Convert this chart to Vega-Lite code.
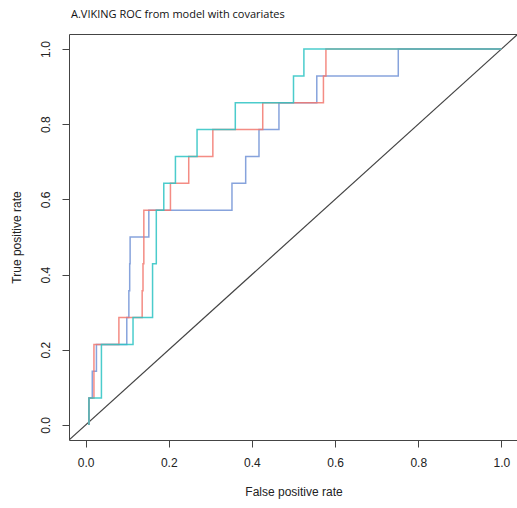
{
  "$schema": "https://vega.github.io/schema/vega-lite/v6.json",
  "width": 449,
  "height": 406,
  "autosize": {"type": "none"},
  "padding": {"left": 69, "top": 34, "right": 0, "bottom": 68},
  "config": {
    "view": {"stroke": "#444", "strokeWidth": 1},
    "axis": {
      "grid": false,
      "domain": false,
      "tickSize": 7,
      "tickColor": "#444",
      "labelFont": "Liberation Sans",
      "labelFontSize": 12,
      "labelColor": "#222",
      "titleFont": "Liberation Sans",
      "titleFontSize": 12,
      "titleFontWeight": "normal",
      "titleColor": "#222"
    }
  },
  "title": {
    "text": "A.VIKING ROC from model with covariates",
    "anchor": "start",
    "frame": "group",
    "font": "Open Sans",
    "fontSize": 11,
    "fontWeight": "normal",
    "color": "#111",
    "baseline": "alphabetic",
    "offset": 5,
    "dx": 2
  },
  "encoding": {
    "x": {
      "field": "fpr", "type": "quantitative",
      "scale": {"domain": [-0.04, 1.04], "nice": false, "zero": false},
      "axis": {"values": [0, 0.2, 0.4, 0.6, 0.8, 1], "format": ".1f", "labelPadding": 10, "title": "False positive rate", "titlePadding": 18}
    },
    "y": {
      "field": "tpr", "type": "quantitative",
      "scale": {"domain": [-0.04, 1.04], "nice": false, "zero": false},
      "axis": {"values": [0, 0.2, 0.4, 0.6, 0.8, 1], "format": ".1f", "labelAngle": -90, "labelAlign": "center", "labelBaseline": "bottom", "labelPadding": 10, "title": "True positive rate", "titlePadding": 16}
    }
  },
  "layer": [
    {
      "data": {"values": [{"fpr": -0.04, "tpr": -0.04}, {"fpr": 1.04, "tpr": 1.04}]},
      "mark": {"type": "line", "color": "#444", "strokeWidth": 1.2, "clip": true}
    },
    {
      "data": {"values": [
        {"s": "blue", "i": 0, "fpr": 0.008, "tpr": 0},
        {"s": "blue", "i": 1, "fpr": 0.008, "tpr": 0.0714},
        {"s": "blue", "i": 2, "fpr": 0.016, "tpr": 0.0714},
        {"s": "blue", "i": 3, "fpr": 0.016, "tpr": 0.1429},
        {"s": "blue", "i": 4, "fpr": 0.026, "tpr": 0.1429},
        {"s": "blue", "i": 5, "fpr": 0.026, "tpr": 0.2143},
        {"s": "blue", "i": 6, "fpr": 0.099, "tpr": 0.2143},
        {"s": "blue", "i": 7, "fpr": 0.099, "tpr": 0.2857},
        {"s": "blue", "i": 8, "fpr": 0.104, "tpr": 0.2857},
        {"s": "blue", "i": 9, "fpr": 0.104, "tpr": 0.3571},
        {"s": "blue", "i": 10, "fpr": 0.106, "tpr": 0.3571},
        {"s": "blue", "i": 11, "fpr": 0.106, "tpr": 0.4286},
        {"s": "blue", "i": 12, "fpr": 0.107, "tpr": 0.4286},
        {"s": "blue", "i": 13, "fpr": 0.107, "tpr": 0.5},
        {"s": "blue", "i": 14, "fpr": 0.152, "tpr": 0.5},
        {"s": "blue", "i": 15, "fpr": 0.152, "tpr": 0.5714},
        {"s": "blue", "i": 16, "fpr": 0.352, "tpr": 0.5714},
        {"s": "blue", "i": 17, "fpr": 0.352, "tpr": 0.6429},
        {"s": "blue", "i": 18, "fpr": 0.385, "tpr": 0.6429},
        {"s": "blue", "i": 19, "fpr": 0.385, "tpr": 0.7143},
        {"s": "blue", "i": 20, "fpr": 0.417, "tpr": 0.7143},
        {"s": "blue", "i": 21, "fpr": 0.417, "tpr": 0.7857},
        {"s": "blue", "i": 22, "fpr": 0.465, "tpr": 0.7857},
        {"s": "blue", "i": 23, "fpr": 0.465, "tpr": 0.8571},
        {"s": "blue", "i": 24, "fpr": 0.556, "tpr": 0.8571},
        {"s": "blue", "i": 25, "fpr": 0.556, "tpr": 0.9286},
        {"s": "blue", "i": 26, "fpr": 0.752, "tpr": 0.9286},
        {"s": "blue", "i": 27, "fpr": 0.752, "tpr": 1},
        {"s": "blue", "i": 28, "fpr": 1, "tpr": 1},
        {"s": "red", "i": 0, "fpr": 0.008, "tpr": 0},
        {"s": "red", "i": 1, "fpr": 0.008, "tpr": 0.0714},
        {"s": "red", "i": 2, "fpr": 0.02, "tpr": 0.0714},
        {"s": "red", "i": 3, "fpr": 0.02, "tpr": 0.2143},
        {"s": "red", "i": 4, "fpr": 0.08, "tpr": 0.2143},
        {"s": "red", "i": 5, "fpr": 0.08, "tpr": 0.2857},
        {"s": "red", "i": 6, "fpr": 0.136, "tpr": 0.2857},
        {"s": "red", "i": 7, "fpr": 0.136, "tpr": 0.3571},
        {"s": "red", "i": 8, "fpr": 0.138, "tpr": 0.3571},
        {"s": "red", "i": 9, "fpr": 0.138, "tpr": 0.4286},
        {"s": "red", "i": 10, "fpr": 0.14, "tpr": 0.4286},
        {"s": "red", "i": 11, "fpr": 0.14, "tpr": 0.5714},
        {"s": "red", "i": 12, "fpr": 0.204, "tpr": 0.5714},
        {"s": "red", "i": 13, "fpr": 0.204, "tpr": 0.6429},
        {"s": "red", "i": 14, "fpr": 0.248, "tpr": 0.6429},
        {"s": "red", "i": 15, "fpr": 0.248, "tpr": 0.7143},
        {"s": "red", "i": 16, "fpr": 0.306, "tpr": 0.7143},
        {"s": "red", "i": 17, "fpr": 0.306, "tpr": 0.7857},
        {"s": "red", "i": 18, "fpr": 0.426, "tpr": 0.7857},
        {"s": "red", "i": 19, "fpr": 0.426, "tpr": 0.8571},
        {"s": "red", "i": 20, "fpr": 0.572, "tpr": 0.8571},
        {"s": "red", "i": 21, "fpr": 0.572, "tpr": 0.9286},
        {"s": "red", "i": 22, "fpr": 0.578, "tpr": 0.9286},
        {"s": "red", "i": 23, "fpr": 0.578, "tpr": 1},
        {"s": "red", "i": 24, "fpr": 1, "tpr": 1},
        {"s": "teal", "i": 0, "fpr": 0.008, "tpr": 0},
        {"s": "teal", "i": 1, "fpr": 0.008, "tpr": 0.0714},
        {"s": "teal", "i": 2, "fpr": 0.038, "tpr": 0.0714},
        {"s": "teal", "i": 3, "fpr": 0.038, "tpr": 0.2143},
        {"s": "teal", "i": 4, "fpr": 0.114, "tpr": 0.2143},
        {"s": "teal", "i": 5, "fpr": 0.114, "tpr": 0.2857},
        {"s": "teal", "i": 6, "fpr": 0.161, "tpr": 0.2857},
        {"s": "teal", "i": 7, "fpr": 0.161, "tpr": 0.4286},
        {"s": "teal", "i": 8, "fpr": 0.17, "tpr": 0.4286},
        {"s": "teal", "i": 9, "fpr": 0.17, "tpr": 0.5714},
        {"s": "teal", "i": 10, "fpr": 0.188, "tpr": 0.5714},
        {"s": "teal", "i": 11, "fpr": 0.188, "tpr": 0.6429},
        {"s": "teal", "i": 12, "fpr": 0.216, "tpr": 0.6429},
        {"s": "teal", "i": 13, "fpr": 0.216, "tpr": 0.7143},
        {"s": "teal", "i": 14, "fpr": 0.268, "tpr": 0.7143},
        {"s": "teal", "i": 15, "fpr": 0.268, "tpr": 0.7857},
        {"s": "teal", "i": 16, "fpr": 0.36, "tpr": 0.7857},
        {"s": "teal", "i": 17, "fpr": 0.36, "tpr": 0.8571},
        {"s": "teal", "i": 18, "fpr": 0.5, "tpr": 0.8571},
        {"s": "teal", "i": 19, "fpr": 0.5, "tpr": 0.9286},
        {"s": "teal", "i": 20, "fpr": 0.525, "tpr": 0.9286},
        {"s": "teal", "i": 21, "fpr": 0.525, "tpr": 1},
        {"s": "teal", "i": 22, "fpr": 1, "tpr": 1}
      ]},
      "mark": {"type": "line", "strokeWidth": 1.5, "opacity": 0.85, "clip": true},
      "encoding": {
        "color": {"field": "s", "type": "nominal", "scale": {"domain": ["blue", "red", "teal"], "range": ["#7293d6", "#f2786f", "#2bc3c3"]}, "legend": null},
        "order": {"field": "i", "type": "quantitative"}
      }
    }
  ]
}
